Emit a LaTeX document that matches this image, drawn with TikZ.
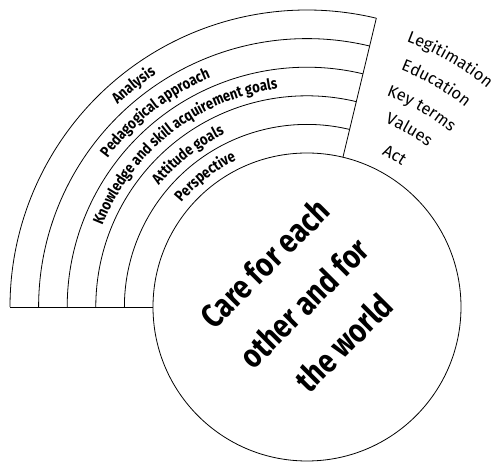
\documentclass[tikz,border=0pt]{standalone}
\usepackage{fontspec}
\setmainfont{Fira Sans}
\newfontfamily\narrowfont[FakeStretch=0.84]{Fira Sans}
\usetikzlibrary{decorations.text}

\begin{document}
\begin{tikzpicture}[
  x=1pt, y=1pt,
  ring/.style={line width=0.8pt},
  core/.style={circle, draw, line width=0.8pt, minimum size=308pt, inner sep=0pt},
  motto/.style={align=center, inner sep=0pt,
    font=\narrowfont\bfseries\fontsize{33}{56}\selectfont},
  inlabel/.style={decorate, decoration={text along path, text align=center,
    text={|\narrowfont\bfseries\fontsize{15.5}{15.5}\selectfont|#1}}},
  outlabel/.style={decorate, decoration={text along path, text align=center,
    text={|\fontsize{16.5}{16.5}\selectfont|#1}}},
]
\useasboundingbox (-307,-155) rectangle (189,307);

% Centre circle
\node[core] (hub) at (0,0) {};
\node[motto, rotate=45] (care) at (-3,4) {Care for each\\other and for\\the world};

% Rings
\draw[ring] (180:182.6) arc[start angle=180, end angle=76.5, radius=182.6];
\draw[ring] (180:211.2) arc[start angle=180, end angle=76.5, radius=211.2];
\draw[ring] (180:239.8) arc[start angle=180, end angle=76.5, radius=239.8];
\draw[ring] (180:268.4) arc[start angle=180, end angle=76.5, radius=268.4];
\draw[ring] (180:297) arc[start angle=180, end angle=76.5, radius=297];

% Base and end lines
\draw[ring] (180:297) -- (hub.west);
\draw[ring] (76.5:154) -- (76.5:297);

% Labels in the rings
\path[inlabel=Perspective] (178:163) arc[start angle=178, end angle=78, radius=163];
\path[inlabel=Attitude goals] (178:191.6) arc[start angle=178, end angle=78, radius=191.6];
\path[inlabel=Knowledge and skill acquirement goals] (178:220.2) arc[start angle=178, end angle=78, radius=220.2];
\path[inlabel=Pedagogical approach] (178:248.8) arc[start angle=178, end angle=78, radius=248.8];
\path[inlabel=Analysis] (178:277.4) arc[start angle=178, end angle=78, radius=277.4];

% Labels on the right
\path[outlabel=Act] (75:170) arc[start angle=75, end angle=45, radius=170];
\path[outlabel=Values] (75:200) arc[start angle=75, end angle=45, radius=200];
\path[outlabel=Key terms] (75:226) arc[start angle=75, end angle=45, radius=226];
\path[outlabel=Education] (75:255) arc[start angle=75, end angle=45, radius=255];
\path[outlabel=Legitimation] (75:283.5) arc[start angle=75, end angle=45, radius=283.5];

\end{tikzpicture}
\end{document}
